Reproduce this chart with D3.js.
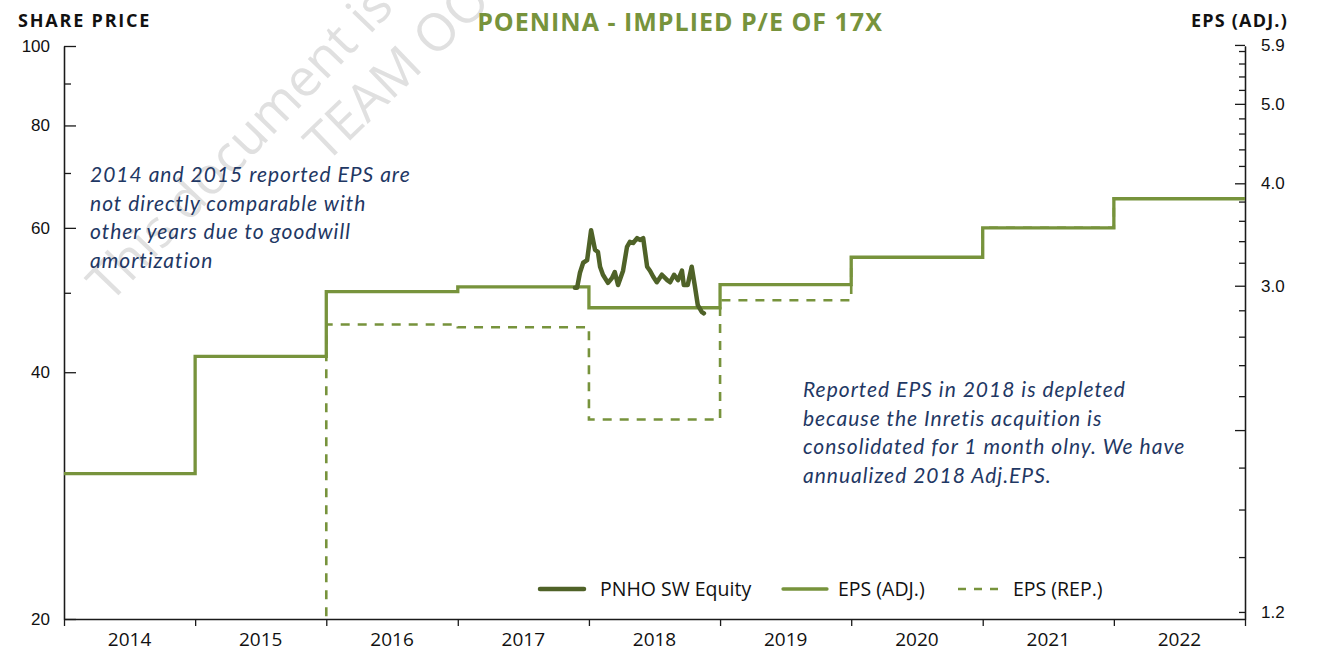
<!DOCTYPE html>
<html>
<head>
<meta charset="utf-8">
<script src="https://cdn.jsdelivr.net/npm/d3@7"></script>
<style>
  body { margin: 0; background: #fff; }
  svg { display: block; font-family: "Open Sans", "Noto Sans", sans-serif; }
  .axis path, .axis line { stroke: #1a1a1a; stroke-width: 1.3; }
  .axis text { font-size: 17px; fill: #111; }
  .note { font-family: "Lato", sans-serif; font-style: italic; font-size: 21px; letter-spacing: 1px; fill: #1f3864; }
</style>
</head>
<body>
<div id="chart"></div>
<script>
// years and EPS series (EPS per year, step line)
var years = [2014, 2015, 2016, 2017, 2018, 2019, 2020, 2021, 2022];
var epsAdj = [1.77, 2.46, 2.95, 2.99, 2.82, 3.01, 3.25, 3.53, 3.83];
// 2014/2015 reported EPS sit below the axis (goodwill amortization)
var epsRep = [1.0, 1.0, 2.69, 2.67, 2.06, 2.88, 3.25, 3.53, 3.83];

// share price (PNHO SW Equity)
var priceDates = ["2017-11-23", "2017-11-29", "2017-12-07", "2017-12-16", "2017-12-27",
    "2018-01-07", "2018-01-18", "2018-01-26", "2018-02-01", "2018-02-09", "2018-02-23",
    "2018-03-06", "2018-03-14", "2018-03-23", "2018-04-06", "2018-04-17", "2018-04-25",
    "2018-05-04", "2018-05-15", "2018-05-23", "2018-06-01", "2018-06-12", "2018-06-20",
    "2018-06-29", "2018-07-09", "2018-07-23", "2018-08-07", "2018-08-15", "2018-08-26",
    "2018-09-06", "2018-09-17", "2018-09-22", "2018-10-03", "2018-10-14", "2018-10-23",
    "2018-10-31", "2018-11-11", "2018-11-17"];
var priceValues = [50.7, 50.7, 52.9, 54.4, 54.8,
    59.6, 56.4, 56.1, 53.8, 52.6, 51.4,
    52.1, 53.0, 51.1, 53.2, 56.9, 57.7,
    57.5, 58.3, 58.0, 58.3, 53.8, 53.2,
    52.3, 51.5, 52.6, 51.8, 51.5, 52.6,
    51.8, 53.2, 51.1, 51.1, 53.8, 50.9,
    48.3, 47.4, 47.2];

var leftMajor = [20, 40, 60, 80, 100];
var leftMinor = [50, 70, 90];
var rightLabelled = [1.2, 3.0, 4.0, 5.0, 5.9];
var rightMajor = [2.0, 3.0, 4.0, 5.0, 5.9];
var rightMinor = [1.2, 1.4, 1.6, 1.8, 2.2, 2.4, 2.6, 2.8, 3.2, 3.4, 3.6, 3.8,
    4.2, 4.4, 4.6, 4.8, 5.2, 5.4, 5.6, 5.8];
var peMultiple = 17;

var width = 1321, height = 653,
    margins = {top: 46, left: 64, right: 76, bottom: 34};

var green = "#77933c", darkGreen = "#4f6228";

var svg = d3.select("#chart").append("svg")
    .attr("width", width)
    .attr("height", height);

var x = d3.scaleUtc()
    .domain([new Date(Date.UTC(years[0], 0, 1)), new Date(Date.UTC(years[years.length - 1] + 1, 0, 1))])
    .range([margins.left, width - margins.right]);
var y = d3.scaleLog()
    .domain([20, 100])
    .range([height - margins.bottom, margins.top]);
var yEps = d3.scaleLog()
    .domain([20 / peMultiple, 100 / peMultiple])
    .range(y.range());

// watermark
var wm = svg.append("g").attr("fill", "#e0e0e0")
    .style("font-family", "'Open Sans', sans-serif").style("font-size", "52px");
wm.append("text").attr("transform", "translate(110,304) rotate(-46)").text("This document is");
wm.append("text").attr("transform", "translate(326,164) rotate(-44)").text("TEAM OO");

svg.append("defs").append("clipPath").attr("id", "body-clip")
    .append("rect")
    .attr("x", margins.left)
    .attr("y", margins.top)
    .attr("width", width - margins.left - margins.right)
    .attr("height", height - margins.top - margins.bottom);

// axes
var axesG = svg.append("g");
axesG.append("g").attr("class", "axis")
    .attr("transform", "translate(" + margins.left + ",0)")
    .call(d3.axisLeft(y).tickValues(leftMinor).tickSizeInner(-7).tickSizeOuter(0).tickFormat(""));
axesG.append("g").attr("class", "axis")
    .attr("transform", "translate(" + margins.left + ",0)")
    .call(d3.axisLeft(y).tickValues(leftMajor).tickSizeInner(-12).tickSizeOuter(0).tickPadding(14)
        .tickFormat(d3.format("d")));

var rx = width - margins.right;
axesG.append("g").attr("class", "axis")
    .attr("transform", "translate(" + rx + ",0)")
    .call(d3.axisRight(yEps).tickValues(rightMinor).tickSizeInner(-6).tickSizeOuter(0).tickFormat(""));
axesG.append("g").attr("class", "axis")
    .attr("transform", "translate(" + rx + ",0)")
    .call(d3.axisRight(yEps).tickValues(rightMajor).tickSizeInner(-10).tickSizeOuter(0).tickPadding(16)
        .tickFormat(function (d) { return rightLabelled.indexOf(d) >= 0 ? d3.format(".1f")(d) : ""; }));
axesG.append("g").attr("class", "axis")
    .attr("transform", "translate(" + rx + ",0)")
    .call(d3.axisRight(yEps).tickValues([rightLabelled[0]]).tickSize(0).tickPadding(16)
        .tickFormat(d3.format(".1f")))
    .select(".domain").remove();

var yearTicks = years.concat([years[years.length - 1] + 1]).map(function (yr) {
    return new Date(Date.UTC(yr, 0, 1));
});
axesG.append("g").attr("class", "axis")
    .attr("transform", "translate(0," + (height - margins.bottom) + ")")
    .call(d3.axisBottom(x).tickValues(yearTicks).tickSizeInner(7).tickSizeOuter(0).tickFormat(""));
axesG.append("g").selectAll("text.year")
    .data(years)
    .enter().append("text")
    .attr("class", "year")
    .attr("x", function (d) { return (x(new Date(Date.UTC(d, 0, 1))) + x(new Date(Date.UTC(d + 1, 0, 1)))) / 2; })
    .attr("y", 646)
    .attr("text-anchor", "middle")
    .style("font-size", "19px")
    .attr("fill", "#111")
    .text(function (d) { return d; });

// titles
svg.append("text").attr("x", 18).attr("y", 27)
    .style("font-size", "18px").style("font-weight", "bold").style("letter-spacing", "1.8px").attr("fill", "#111")
    .text("SHARE PRICE");
svg.append("text").attr("x", 1288).attr("y", 27).attr("text-anchor", "end")
    .style("font-size", "18px").style("font-weight", "bold").style("letter-spacing", "1.2px").attr("fill", "#111")
    .text("EPS (ADJ.)");
svg.append("text").attr("x", 680).attr("y", 31).attr("text-anchor", "middle")
    .style("font-size", "25px").style("font-weight", "bold").style("letter-spacing", "1px").attr("fill", green)
    .text("POENINA - IMPLIED P/E OF 17X");

// series
function stepPoints(values) {
    var pts = [];
    years.forEach(function (yr, i) {
        pts.push({d: new Date(Date.UTC(yr, 0, 1)), v: values[i]});
        pts.push({d: new Date(Date.UTC(yr + 1, 0, 1)), v: values[i]});
    });
    return pts;
}
var epsLine = d3.line()
    .x(function (d) { return x(d.d); })
    .y(function (d) { return yEps(d.v); });

var bodyG = svg.append("g").attr("clip-path", "url(#body-clip)");
bodyG.append("path")
    .datum(stepPoints(epsRep))
    .attr("d", epsLine)
    .attr("fill", "none")
    .attr("stroke", green)
    .attr("stroke-width", 2.6)
    .attr("stroke-dasharray", "9,8");
bodyG.append("path")
    .datum(stepPoints(epsAdj))
    .attr("d", epsLine)
    .attr("fill", "none")
    .attr("stroke", green)
    .attr("stroke-width", 3.3);

var priceData = priceDates.map(function (d, i) {
    return {d: new Date(d + "T00:00:00Z"), v: priceValues[i]};
});
bodyG.append("path")
    .datum(priceData)
    .attr("d", d3.line()
        .x(function (d) { return x(d.d); })
        .y(function (d) { return y(d.v); }))
    .attr("fill", "none")
    .attr("stroke", darkGreen)
    .attr("stroke-width", 4.5)
    .attr("stroke-linejoin", "round")
    .attr("stroke-linecap", "round");

// annotations
var note1 = ["2014 and 2015 reported EPS are", "not directly comparable with",
    "other years due to goodwill", "amortization"];
var note2 = ["Reported EPS in 2018 is depleted", "because the Inretis acquition is",
    "consolidated for 1 month olny. We have", "annualized 2018 Adj.EPS."];
svg.append("text").attr("class", "note")
    .selectAll("tspan").data(note1).enter().append("tspan")
    .attr("x", 90).attr("y", function (d, i) { return 182 + i * 28.7; })
    .text(function (d) { return d; });
svg.append("text").attr("class", "note")
    .selectAll("tspan").data(note2).enter().append("tspan")
    .attr("x", 803).attr("y", function (d, i) { return 397 + i * 28.5; })
    .text(function (d) { return d; });

// legend
var legend = svg.append("g").style("font-size", "19.5px").attr("fill", "#111");
var legendItems = [
    {label: "PNHO SW Equity", x: 540, tx: 600, color: darkGreen, w: 4.5, dash: null},
    {label: "EPS (ADJ.)", x: 783, tx: 838, color: green, w: 3.3, dash: null},
    {label: "EPS (REP.)", x: 958, tx: 1013, color: green, w: 2.6, dash: "8,8"}
];
legendItems.forEach(function (it) {
    legend.append("line")
        .attr("x1", it.x).attr("x2", it.x + 44)
        .attr("y1", 589).attr("y2", 589)
        .attr("stroke", it.color)
        .attr("stroke-width", it.w)
        .attr("stroke-linecap", it.dash ? "butt" : "round")
        .attr("stroke-dasharray", it.dash);
    legend.append("text")
        .attr("x", it.tx)
        .attr("y", 596)
        .text(it.label);
});
</script>
</body>
</html>
